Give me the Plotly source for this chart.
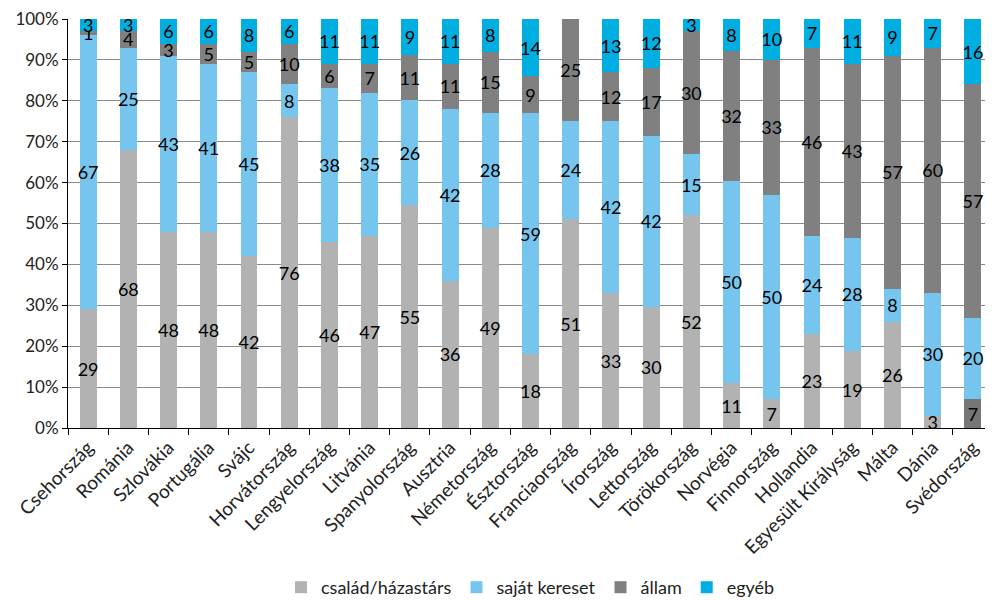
import plotly.graph_objects as go

countries = ["Csehország", "Románia", "Szlovákia", "Portugália", "Svájc", "Horvátország",
             "Lengyelország", "Litvánia", "Spanyolország", "Ausztria", "Németország",
             "Észtország", "Franciaország", "Írország", "Lettország", "Törökország",
             "Norvégia", "Finnország", "Hollandia", "Egyesült Királyság", "Málta",
             "Dánia", "Svédország"]
csalad = [29, 68, 48, 48, 42, 76, 46, 47, 55, 36, 49, 18, 51, 33, 30, 52, 11, 7, 23, 19, 26, 3, 7]
sajat = [67, 25, 43, 41, 45, 8, 38, 35, 26, 42, 28, 59, 24, 42, 42, 15, 50, 50, 24, 28, 8, 30, 20]
allam = [1, 4, 3, 5, 5, 10, 6, 7, 11, 11, 15, 9, 25, 12, 17, 30, 32, 33, 46, 43, 57, 60, 57]
egyeb = [3, 3, 6, 6, 8, 6, 11, 11, 9, 11, 8, 14, 0, 13, 12, 3, 8, 10, 7, 11, 9, 7, 16]

series = [
    ("család/házastárs", csalad, "#b2b2b2"),
    ("saját kereset", sajat, "#75c5ee"),
    ("állam", allam, "#808080"),
    ("egyéb", egyeb, "#00aee1"),
]

FONT = "Lato, 'Open Sans', sans-serif"
fig = go.Figure()
for i, (name, vals, col) in enumerate(series):
    colors = [col] * len(vals)
    if i == 0:
        colors[-1] = "#767676"  # Svédország highlighted darker
    fig.add_trace(go.Bar(
        x=countries, y=vals, name=name,
        marker=dict(color=colors, line=dict(width=0)),
        text=[str(v) if v else "" for v in vals],
        textposition="inside", insidetextanchor="middle", textangle=0,
        textfont=dict(color="black", size=18, family=FONT),
        cliponaxis=False,
    ))
fig.update_layout(
    barmode="stack", barnorm="percent", bargap=0.58,
    width=993, height=600,
    margin=dict(l=60, r=8, t=11, b=180, autoexpand=False),
    plot_bgcolor="white", paper_bgcolor="white",
    font=dict(family=FONT, size=16, color="#222"),
    uniformtext=dict(minsize=18, mode="show"),
    xaxis=dict(showline=True, linecolor="black", linewidth=1, ticks="outside",
               tickson="boundaries", ticklen=6, tickcolor="black", tickangle=-45,
               tickfont=dict(size=19, family=FONT), automargin=False),
    yaxis=dict(range=[0, 100], dtick=10, ticksuffix="%", showline=True, linecolor="black",
               ticks="outside", ticklen=5, tickcolor="black", gridcolor="#8a8a8a",
               gridwidth=1, tickfont=dict(size=17, family=FONT), automargin=False,
               zeroline=False, ticklabeloverflow="allow"),
    legend=dict(orientation="h", x=0.5, xanchor="center", y=-0.39, yanchor="middle",
                font=dict(size=18, family=FONT), traceorder="normal"),
)
fig.write_html("out.html")
